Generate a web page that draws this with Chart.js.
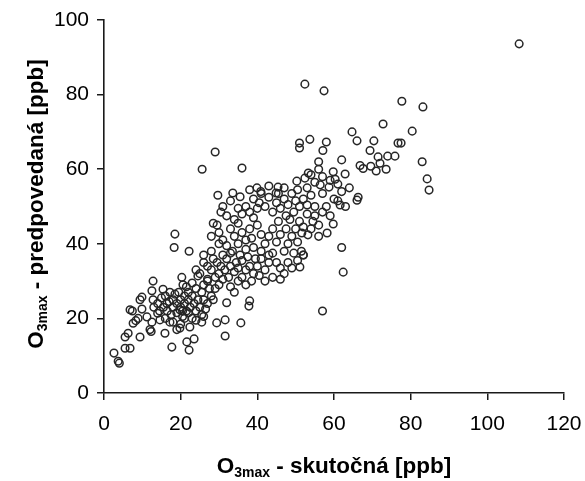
<!DOCTYPE html>
<html>
<head>
<meta charset="utf-8">
<script src="https://cdn.jsdelivr.net/npm/chart.js@4.4.1/dist/chart.umd.min.js"></script>
<style>
  html, body { margin: 0; padding: 0; background: #ffffff; }
  #wrap { width: 585px; height: 481px; position: relative; }
</style>
</head>
<body>
<div id="wrap"><canvas id="c" width="585" height="481"></canvas></div>
<script>
const actualValues = [
  2.6,3.7,4.0,5.5,6.8,5.5,6.3,7.6,8.3,8.9,6.8,7.4,9.4,12,12.3,11.2,12.5,9.9,9.4,12.8,
  14,14.6,15.9,17.2,17.7,19,19.8,21.6,22.2,23.5,22.4,19.8,20.5,16.4,9.9,12.5,15.4,17.2,12.8,20.3,
  20.6,24.5,18.5,18.3,22.2,
  37.8,38,35.7,31.6,29.4,31.6,25.5,25.5,32,28.5,
  14,15,15.5,16,16.5,17,17.5,18,18,18.5,19,19,19.5,20,20,20.5,21,21,21.5,22,
  22,22.5,23,23,23.5,24,24,24.5,25,25.5,26,26.5,27,27.5,28,13,14.5,16,18,20,
  21,22,24,26,27,26,23,21.5,
  24,25,26,27,28,28.5,29,29.5,30,30.5,31,31.5,32,32.5,33,33.5,34,34.5,35,35.5,
  36,36,37,37.5,38,38.5,39,39.5,40,40.5,41,42,43,26,28,30,32,33,35,37,
  39,41,43,30,33,35,37,29,31,34,27,
  28.5,29.5,28,30,31,33,34,35,36,37,38,39,36,34,32,30.5,40,41,38.5,
  42,43,44,45,45.5,46,47,47.5,48,48.5,49,49.5,50,50.5,51,44,45,46,48,49,
  50.5,52,51.6,53.2,51.5,51.1,42,44,46,47,
  37,38,39,40,40.5,41,42,43,44,45,45.5,46,47,47.5,48,49,49.5,50,50.5,51,
  52,39.9,40.9,45.4,44.9,50.3,29.7,33.6,35.5,38,43,47,33,31,35,
  54.5,59.8,58.2,53,55,58,61.6,66,53,55,56,57,52,54,56,59,60,61,62,53.3,
  52.4,56.4,58.7,53,54,55,57,59,60.3,59.8,62.9,61,64,66.3,63,57,54,56,51,51,
  53.7,58,57.1,62,56,
  64.7,66,70.4,76.7,69.4,71.5,74,75.9,66.8,67.6,69.6,71,72,73.6,72.8,
  108.3,52.4,57.4,77.7,83.2,80.4,77.5,83,84.3,84.8,62,52,62.4,57,29,36,25.6
];
const predictedValues = [
  10.7,8.5,8.0,12,12,15,16,18.7,19.4,20,22.3,22,15,17,16.5,20.4,19,22.5,25,25,
  21.4,19.6,16,19,12.3,17,17.4,13.7,11.5,14.5,17.7,22.3,22,24,25.7,27.4,27.8,27,30,31,
  29,31.4,42.6,39,38,
  23.3,24.7,18.8,19.6,18.8,15.3,21,19,24.2,25,
  24,25.5,23,26,22,24.5,21,25,23,26.5,24,21.5,27,25,23,20.5,26,24,22,27,
  25,23,20,26,24,22,28,25,23,27,25,22.5,24,28,26,23,22,20,19,18.5,
  20,21.5,19.5,20.5,30,29,29.5,28.5,
  33,32,35,34,33,36,31,35,32,34,37,33,36,31,34,38,32.5,35,33.5,37,
  31,35.5,33,36.5,34,30,32,36,34,31.5,36,33,35,37,38,40,39.5,37.5,40,38.5,
  39,38,37,29,28.5,30,29,28,30.5,27,30.5,
  45.5,45,42,43,41,44,42,45.5,43,41,44,47,48,46.5,47.5,48.5,45,42.5,41.5,
  40,42,44,40.5,46,42.5,38,44,40,46.5,42,37.5,44,40.5,46,37.5,35,33.5,35,33.5,
  35.5,37,42.9,42.4,38,33.8,30,31,30.5,32,
  50,48.5,52,49.5,51,53.5,50,52.5,48.5,51,53.5,49.5,52,47.5,50.5,53.5,48.5,51.5,54.5,50,
  52,55,54,55.2,53.6,56.8,53,53.6,52.6,54.5,55.5,55,51.5,50,49.5,
  46,45.3,42.9,50.4,50,50,50.4,51.7,48,47.5,45,48.5,44.5,44,42,47.5,52,51.5,54,59,
  57.6,55.8,55.2,55,53,56.5,53.5,57,57.3,59.3,58.7,56,55,52.5,50,58,58.5,60,67,65.7,
  68,67.3,65,62.5,62,
  70,67.6,67.6,67,65,63.3,63.5,63.5,61,60.2,60.8,59.5,61.6,60,72.1,
  93.6,82.8,81,78.2,76.7,70.2,67,62,57.4,54.4,39,37,32.4,22,64.6,60.3,60
];
const xTickLabels = [0, 20, 40, 60, 80, 100, 120];
const yTickLabels = [0, 20, 40, 60, 80, 100];
const xTitle = ['O', '3max', ' - skutočná [ppb]'];
const yTitle = ['O', '3max', ' - predpovedaná [ppb]'];

const points = actualValues.map((v, i) => ({ x: v, y: predictedValues[i] }));

const FONT = '"Liberation Sans", Arial, Helvetica, sans-serif';

function drawSubTitle(ctx, parts, cx, cy, angle) {
  ctx.save();
  ctx.translate(cx, cy);
  ctx.rotate(angle);
  const big = 'bold 22.5px ' + FONT;
  const small = 'bold 14px ' + FONT;
  ctx.font = big; const w0 = ctx.measureText(parts[0]).width;
  ctx.font = small; const w1 = ctx.measureText(parts[1]).width;
  ctx.font = big; const w2 = ctx.measureText(parts[2]).width;
  const total = w0 + w1 + w2;
  let x = -total / 2;
  ctx.fillStyle = '#000';
  ctx.textBaseline = 'alphabetic';
  ctx.textAlign = 'left';
  ctx.font = big; ctx.fillText(parts[0], x, 0); x += w0;
  ctx.font = small; ctx.fillText(parts[1], x, 4); x += w1;
  ctx.font = big; ctx.fillText(parts[2], x, 0);
  ctx.restore();
}

const titlePlugin = {
  id: 'subTitles',
  afterDraw(chart) {
    const ctx = chart.ctx;
    const a = chart.chartArea;
    drawSubTitle(ctx, xTitle, (a.left + a.right) / 2, 473, 0);
    drawSubTitle(ctx, yTitle, 43, 204, -Math.PI / 2);
  }
};

new Chart(document.getElementById('c'), {
  type: 'scatter',
  data: {
    datasets: [{
      data: points,
      pointStyle: 'circle',
      pointRadius: 3.8,
      pointBorderWidth: 1.5,
      borderColor: '#262626',
      backgroundColor: 'rgba(0,0,0,0)',
      pointBackgroundColor: 'rgba(0,0,0,0)'
    }]
  },
  options: {
    responsive: false,
    animation: false,
    layout: { padding: { left: 0, right: 21, top: 20, bottom: 0 } },
    plugins: { legend: { display: false }, tooltip: { enabled: false } },
    scales: {
      x: {
        type: 'linear', min: 0, max: 120,
        afterFit(s) { s.height = 88; s.paddingLeft = 0; s.paddingRight = 0; },
        afterBuildTicks(s) { s.ticks = xTickLabels.map(v => ({ value: v })); },
        border: { display: true, color: '#1a1a1a', width: 1.6 },
        grid: { drawOnChartArea: false, drawTicks: true, tickLength: 7, color: '#1a1a1a', lineWidth: 1.5 },
        ticks: { color: '#000', font: { family: FONT, size: 21 }, padding: 12 }
      },
      y: {
        type: 'linear', min: 0, max: 100,
        afterFit(s) { s.width = 104; s.paddingTop = 0; s.paddingBottom = 0; },
        afterBuildTicks(s) { s.ticks = yTickLabels.map(v => ({ value: v })); },
        border: { display: true, color: '#1a1a1a', width: 1.6 },
        grid: { drawOnChartArea: false, drawTicks: true, tickLength: 7, color: '#1a1a1a', lineWidth: 1.5 },
        ticks: { color: '#000', font: { family: FONT, size: 21 }, padding: 8 }
      }
    }
  },
  plugins: [titlePlugin]
});
</script>
</body>
</html>
